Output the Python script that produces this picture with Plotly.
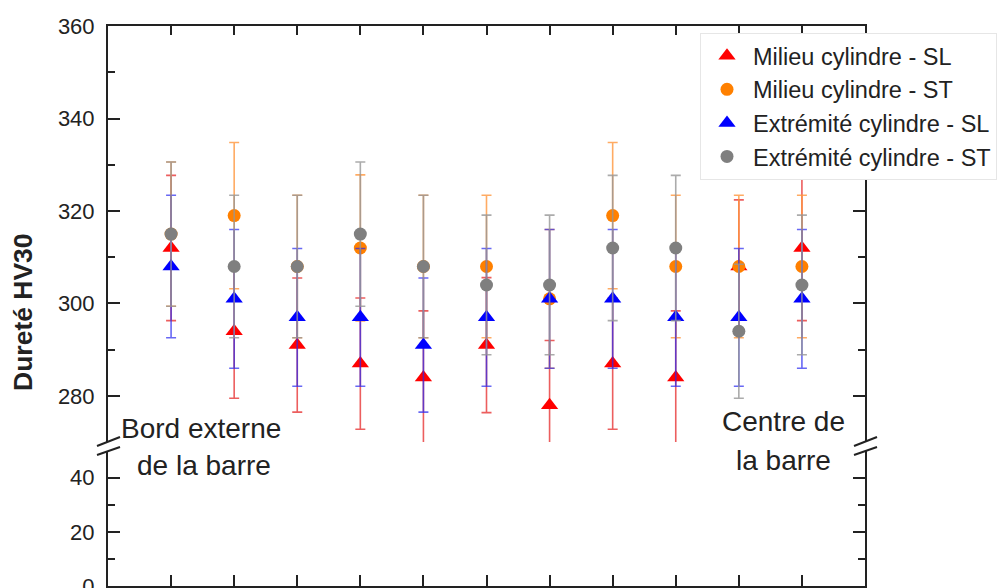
import plotly.graph_objects as go

# ---------------- data ----------------
positions = [1, 2, 3, 4, 5, 6, 7, 8, 9, 10, 11]

milieu_sl = [312, 294, 291, 287, 284, 291, 278, 287, 284, 308, 312]
milieu_sl_err = [15.7, 14.5, 14.5, 14.2, 14.4, 14.6, 14.0, 14.2, 14.4, 14.4, 15.7]

milieu_st = [315, 319, 308, 312, 308, 308, 301, 319, 308, 308, 308]
milieu_st_err = [15.6, 15.8, 15.4, 15.8, 15.4, 15.4, 15.0, 15.8, 15.4, 15.4, 15.4]

extr_sl = [308, 301, 297, 297, 291, 297, 301, 301, 297, 297, 301]
extr_sl_err = [15.4, 15.0, 14.9, 14.9, 14.5, 14.9, 15.0, 15.0, 14.9, 14.9, 15.0]

extr_st = [315, 308, 308, 315, 308, 304, 304, 312, 312, 294, 304]
extr_st_err = [15.6, 15.4, 15.4, 15.6, 15.4, 15.1, 15.1, 15.7, 15.7, 14.5, 15.1]

series_names = ["Milieu cylindre - SL", "Milieu cylindre - ST",
                "Extrémité cylindre - SL", "Extrémité cylindre - ST"]

upper_ticks = [280, 300, 320, 340, 360]
lower_ticks = [0, 20, 40]

# ---------------- layout geometry (pixels) ----------------
# the page body adds an 8 px offset, compensated in the margins
W, H = 1008, 588
OFF = 8
ML, MT = 108 - OFF, 26 - OFF
MR, MB = W - (865 - OFF), H - (586 - OFF)
PW, PH = W - ML - MR, H - MT - MB
UPPER_BOTTOM_PX = 442
LOWER_TOP_PX = 451


def px_x(x):
    return (x - OFF - ML) / PW


def px_y(y):
    return (H - MB - (y - OFF)) / PH


FONT = "Arial, 'Liberation Sans', sans-serif"
INK = "#222222"

styles = [
    dict(symbol="triangle-up", color="#ff0000", err="rgba(230,40,40,0.75)"),
    dict(symbol="circle", color="#ff8000", err="rgba(255,150,60,0.8)"),
    dict(symbol="triangle-up", color="#0000ff", err="rgba(40,40,240,0.7)"),
    dict(symbol="circle", color="#7f7f7f", err="rgba(150,150,150,0.8)"),
]
values = [milieu_sl, milieu_st, extr_sl, extr_st]
errors = [milieu_sl_err, milieu_st_err, extr_sl_err, extr_st_err]

fig = go.Figure()
for name, st, vals, errs in zip(series_names, styles, values, errors):
    fig.add_trace(go.Scatter(
        x=positions, y=vals, mode="markers", name=name,
        xaxis="x", yaxis="y",
        marker=dict(symbol=st["symbol"], color=st["color"],
                    size=13 if st["symbol"] == "circle" else 15,
                    line=dict(width=0)),
        error_y=dict(type="data", array=errs, visible=True,
                     color=st["err"], thickness=1.6, width=5),
    ))

# empty helper traces so the lower and top axes are drawn
fig.add_trace(go.Scatter(x=[None], y=[None], xaxis="x", yaxis="y2",
                         showlegend=False, hoverinfo="skip"))
fig.add_trace(go.Scatter(x=[None], y=[None], xaxis="x2", yaxis="y",
                         showlegend=False, hoverinfo="skip"))

line_common = dict(showline=True, linecolor=INK, linewidth=2,
                   ticks="inside", tickcolor=INK, tickwidth=2,
                   showgrid=False, zeroline=False)
tick_font = dict(family=FONT, size=22, color=INK)

fig.update_layout(
    width=W, height=H,
    margin=dict(l=ML, r=MR, t=MT, b=MB, autoexpand=False),
    paper_bgcolor="white", plot_bgcolor="white",
    font=dict(family=FONT, color=INK),
    xaxis=dict(domain=[0, 1], anchor="y2", range=[0, 12],
               tickvals=positions, showticklabels=False, ticklen=11,
               **line_common),
    xaxis2=dict(overlaying="x", matches="x", side="top", anchor="y",
                range=[0, 12], tickvals=positions, showticklabels=False,
                ticklen=9, **line_common),
    yaxis=dict(domain=[px_y(UPPER_BOTTOM_PX), 1], anchor="x",
               range=[270.05, 360], tickvals=upper_ticks, ticklen=12,
               mirror="ticks", ticklabelstandoff=7, tickfont=tick_font,
               ticklabeloverflow="allow",
               minor=dict(dtick=10, tick0=0, ticks="inside", ticklen=7,
                          tickcolor=INK, tickwidth=2),
               **line_common),
    yaxis2=dict(domain=[0, px_y(LOWER_TOP_PX)], anchor="x",
                range=[0, 49.9], tickvals=lower_ticks, ticklen=12,
                mirror="ticks", ticklabelstandoff=7, tickfont=tick_font,
                ticklabeloverflow="allow",
                minor=dict(dtick=10, tick0=0, ticks="inside", ticklen=7,
                           tickcolor=INK, tickwidth=2),
                **line_common),
    legend=dict(x=px_x(700), y=px_y(33), xanchor="left", yanchor="top",
                bgcolor="white", bordercolor="#e6e6e6", borderwidth=1,
                font=dict(family=FONT, size=23.5, color=INK),
                itemwidth=42, tracegroupgap=0),
    showlegend=True,
)


def label(text, x, y, size, angle=0):
    return dict(text=text, x=px_x(x), y=px_y(y), xref="paper", yref="paper",
                xanchor="center", yanchor="middle", textangle=angle,
                showarrow=False, font=dict(family=FONT, size=size, color=INK))


annotations = [
    label("<b>Dureté HV30</b>", 23, 312, 26.5, -90),
    label("Bord externe", 201, 428, 28),
    label("de la barre", 204, 465, 28),
    label("Centre de", 783, 422, 28),
    label("la barre", 783, 460, 28),
]
fig.update_layout(annotations=annotations)

# axis-break marks
shapes = []
for x0 in (97, 854):
    for (ya, yb) in ((446, 437), (455, 447)):
        shapes.append(dict(type="line", xref="paper", yref="paper",
                           x0=px_x(x0), x1=px_x(x0 + 23),
                           y0=px_y(ya), y1=px_y(yb),
                           line=dict(color=INK, width=2)))
fig.update_layout(shapes=shapes)

fig.write_html("out.html")
